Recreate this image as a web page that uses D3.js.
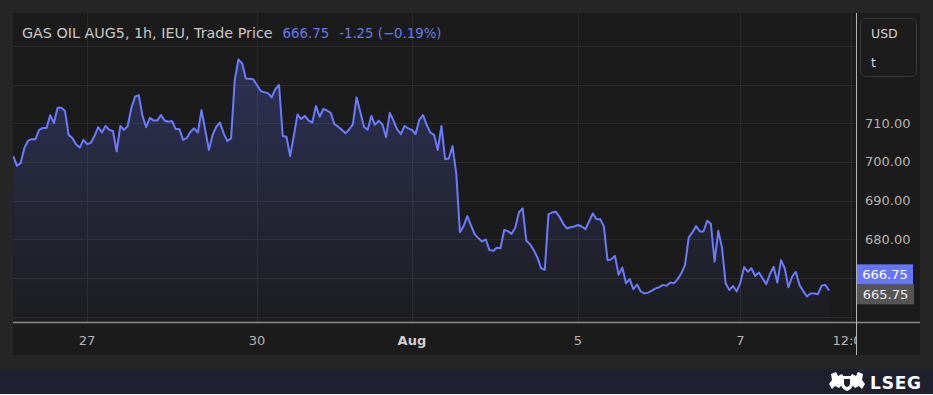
<!DOCTYPE html>
<html><head><meta charset="utf-8">
<script src="https://cdn.jsdelivr.net/npm/d3@7"></script>
<style>
html,body{margin:0;padding:0;background:#262626;}
svg{display:block;}
text{font-family:"DejaVu Sans","Noto Sans",sans-serif;}
</style></head>
<body><svg id="c" width="933" height="395"></svg>
<script>
// ---- data ----
const title = "GAS OIL AUG5, 1h, IEU, Trade Price";
const lastPrice = 666.75;
const change = -1.25;
const changePct = -0.19;
const refPrice = 665.75;
const currency = ["USD", "t"];
const prices = [
 701.5,699.0,699.7,703.6,705.5,705.9,705.9,708.3,708.8,708.8,
 712.1,710.1,714.0,714.0,713.2,707.0,706.2,704.6,703.7,705.7,
 704.6,704.9,706.7,709.0,707.6,709.3,708.3,708.0,702.7,709.3,
 708.3,709.3,714.0,716.9,717.3,711.9,709.0,711.4,710.7,710.7,
 712.1,710.7,710.4,710.6,708.5,708.5,705.7,706.2,707.8,708.7,
 707.6,713.4,708.3,703.1,707.0,709.1,710.2,707.4,705.4,706.1,
 721.2,726.5,725.5,721.6,721.5,
 721.4,719.9,718.4,718.0,717.8,716.7,718.8,
 719.9,706.7,706.5,701.5,706.7,712.3,711.1,711.9,710.7,
 710.2,714.5,711.7,713.7,713.3,712.7,709.8,709.1,708.3,
 707.4,708.4,709.7,716.7,713.0,709.1,708.3,711.9,709.6,710.7,709.7,706.4,
 712.7,710.7,708.4,707.2,709.3,708.7,708.3,707.2,710.9,712.1,709.6,707.6,707.0,703.1,709.3,700.7,700.9,704.1,697.1,
 681.8,683.4,686.0,683.6,681.3,680.3,679.4,680.0,677.2,677.0,677.8,677.7,682.4,682.1,681.4,683.0,687.0,688.0,679.6,678.7,677.2,675.3,672.5,672.1,
 686.5,686.9,687.1,685.8,684.0,682.8,683.1,683.3,683.7,683.3,682.6,684.6,686.7,685.2,685.2,683.4,
 674.6,674.8,675.7,670.8,672.7,668.6,669.7,667.1,668.3,666.5,666.0,666.2,666.7,667.3,667.6,668.2,668.0,668.8,668.6,669.7,671.2,673.4,
 680.5,681.8,683.4,682.0,682.0,684.8,684.0,674.2,682.2,677.9,668.6,666.9,667.9,666.5,668.8,672.8,671.6,672.5,670.5,671.4,
 669.9,668.4,671.0,672.9,668.8,674.6,672.5,667.6,670.3,671.6,668.2,666.6,665.2,666.0,666.0,665.8,668.0,668.2,666.75
];
const timeTickIndex = [20, 66, 108, 153, 197, 227];
const timeTickLabels = ["27", "30", "Aug", "5", "7", "12:00"];
const timeTickBold = [false, false, true, false, false, false];
const priceTicks = [680, 690, 700, 710];
const gridPrices = [660, 670, 680, 690, 700, 710, 720, 730];

// ---- layout ----
const svg = d3.select("#c");
const pane = {l: 13, t: 13, r: 856, b: 322};
const axisR = 920;
const timeAxisB = 355;

const x = d3.scaleLinear().domain([0, prices.length - 1]).range([13.3, 829]);
const y = d3.scaleLinear().domain([660, 730]).range([316.6, 45.95]);

// backgrounds
svg.append("rect").attr("width", 933).attr("height", 395).attr("fill", "#262626");
svg.append("rect").attr("x", pane.l).attr("y", pane.t).attr("width", axisR - pane.l).attr("height", timeAxisB - pane.t).attr("fill", "#1b1b1b");
svg.append("rect").attr("x", 0).attr("y", 369).attr("width", 933).attr("height", 25).attr("fill", "#1e212d");
svg.append("rect").attr("x", 0).attr("y", 394).attr("width", 933).attr("height", 1).attr("fill", "#f2f2f2");

const defs = svg.append("defs");
defs.append("clipPath").attr("id", "paneClip").append("rect")
  .attr("x", pane.l).attr("y", pane.t).attr("width", pane.r - pane.l).attr("height", pane.b - pane.t);
defs.append("clipPath").attr("id", "timeClip").append("rect")
  .attr("x", pane.l).attr("y", pane.b).attr("width", pane.r - pane.l).attr("height", timeAxisB - pane.b);
const grad = defs.append("linearGradient").attr("id", "fillGrad")
  .attr("gradientUnits", "userSpaceOnUse").attr("x1", 0).attr("x2", 0).attr("y1", 50).attr("y2", pane.b);
grad.append("stop").attr("offset", 0).attr("stop-color", "#6473ff").attr("stop-opacity", 0.26);
grad.append("stop").attr("offset", 1).attr("stop-color", "#6473ff").attr("stop-opacity", 0.02);

const g = svg.append("g").attr("clip-path", "url(#paneClip)");
// grid
g.selectAll("line.hg").data(gridPrices).join("line").attr("class", "hg")
  .attr("x1", pane.l).attr("x2", pane.r).attr("y1", d => Math.round(y(d)) + 0.5).attr("y2", d => Math.round(y(d)) + 0.5)
  .attr("stroke", "#2b2b2b").attr("stroke-width", 1);
g.selectAll("line.vg").data(timeTickIndex).join("line").attr("class", "vg")
  .attr("x1", d => Math.round(x(d)) + 0.5).attr("x2", d => Math.round(x(d)) + 0.5).attr("y1", pane.t).attr("y2", pane.b)
  .attr("stroke", "#2b2b2b").attr("stroke-width", 1);

// area + line
const area = d3.area().x((d, i) => x(i)).y0(pane.b).y1(d => y(d));
const line = d3.line().x((d, i) => x(i)).y(d => y(d));
g.append("path").datum(prices).attr("d", area).attr("fill", "url(#fillGrad)");
g.append("path").datum(prices).attr("d", line).attr("fill", "none")
  .attr("stroke", "#6b7bff").attr("stroke-width", 2).attr("stroke-linejoin", "round");

// header legend
const hdr = svg.append("text").attr("x", 22).attr("y", 38).attr("font-size", 14.3);
hdr.append("tspan").attr("fill", "#c9c9c9").text(title);
hdr.append("tspan").attr("fill", "#6a78e6").attr("dx", 10).attr("font-size", 13.3).text(lastPrice.toFixed(2));
hdr.append("tspan").attr("fill", "#6a78e6").attr("dx", 10).attr("font-size", 13.3)
  .text(`${change.toFixed(2)} (${changePct < 0 ? "\u2212" : "+"}${Math.abs(changePct).toFixed(2)}%)`);

// separator lines
svg.append("line").attr("x1", pane.l).attr("x2", axisR).attr("y1", pane.b + 0.5).attr("y2", pane.b + 0.5)
  .attr("stroke", "#8c8c8c").attr("stroke-width", 1.5);
svg.append("line").attr("x1", pane.r + 0.5).attr("x2", pane.r + 0.5).attr("y1", pane.t).attr("y2", timeAxisB)
  .attr("stroke", "#b5b5b5").attr("stroke-width", 1);

// price axis
svg.selectAll("text.pt").data(priceTicks).join("text").attr("class", "pt")
  .attr("x", 865).attr("y", d => y(d) + 4.5).attr("font-size", 13).attr("fill", "#b4b4b4")
  .text(d => d.toFixed(2));

// currency box
svg.append("rect").attr("x", 860.5).attr("y", 18.5).attr("width", 56).attr("height", 58).attr("rx", 5)
  .attr("fill", "#1c1c1c").attr("stroke", "#3a3a3a");
svg.append("text").attr("x", 871).attr("y", 38).attr("font-size", 12.5).attr("fill", "#d2d2d2").text(currency[0]);
svg.append("text").attr("x", 871).attr("y", 67).attr("font-size", 12.5).attr("fill", "#d2d2d2").text(currency[1]);

// last price labels
const refY = y(refPrice);
const lblH = 20;
svg.append("rect").attr("x", 857).attr("y", refY - lblH / 2).attr("width", 57).attr("height", lblH).attr("fill", "#555555");
svg.append("text").attr("x", 885.5).attr("y", refY + 4.5).attr("text-anchor", "middle").attr("font-size", 13)
  .attr("fill", "#f0f0f0").text(refPrice.toFixed(2));
const lastY = refY - lblH;
svg.append("rect").attr("x", 857).attr("y", lastY - lblH / 2).attr("width", 56).attr("height", lblH).attr("fill", "#6676ff");
svg.append("text").attr("x", 885).attr("y", lastY + 4.5).attr("text-anchor", "middle").attr("font-size", 13)
  .attr("fill", "#ffffff").text(lastPrice.toFixed(2));

// time axis
const tg = svg.append("g").attr("clip-path", "url(#timeClip)");
tg.selectAll("text").data(timeTickIndex).join("text")
  .attr("x", d => x(d)).attr("y", 345).attr("text-anchor", "middle").attr("font-size", 13)
  .attr("font-weight", (d, i) => timeTickBold[i] ? "bold" : "normal")
  .attr("fill", (d, i) => timeTickBold[i] ? "#d0d0d0" : "#b4b4b4")
  .text((d, i) => timeTickLabels[i]);

// LSEG logo
const lg = svg.append("g").attr("transform", "translate(829,372)").attr("fill", "#ffffff");
lg.append("path").attr("d", "M2,2 L7,0 L9,4 L13,2 L15,5 L12,8 L14,12 L10,16 L6,14 L3,17 L0,12 L3,8 Z");
lg.append("path").attr("d", "M34,2 L29,0 L27,4 L23,2 L21,5 L24,8 L22,12 L26,16 L30,14 L33,17 L36,12 L33,8 Z");
lg.append("path").attr("d", "M12,4 L24,4 L24,11 Q24,17 18,19 Q12,17 12,11 Z").attr("fill", "#ffffff");
lg.append("path").attr("d", "M15,7 L21,7 L21,11 Q21,14 18,15 Q15,14 15,11 Z").attr("fill", "#1e212d");
svg.append("text").attr("x", 870).attr("y", 389).attr("font-size", 17).attr("font-weight", "bold")
  .attr("fill", "#ffffff").attr("letter-spacing", 0.8).text("LSEG");
</script></body></html>
